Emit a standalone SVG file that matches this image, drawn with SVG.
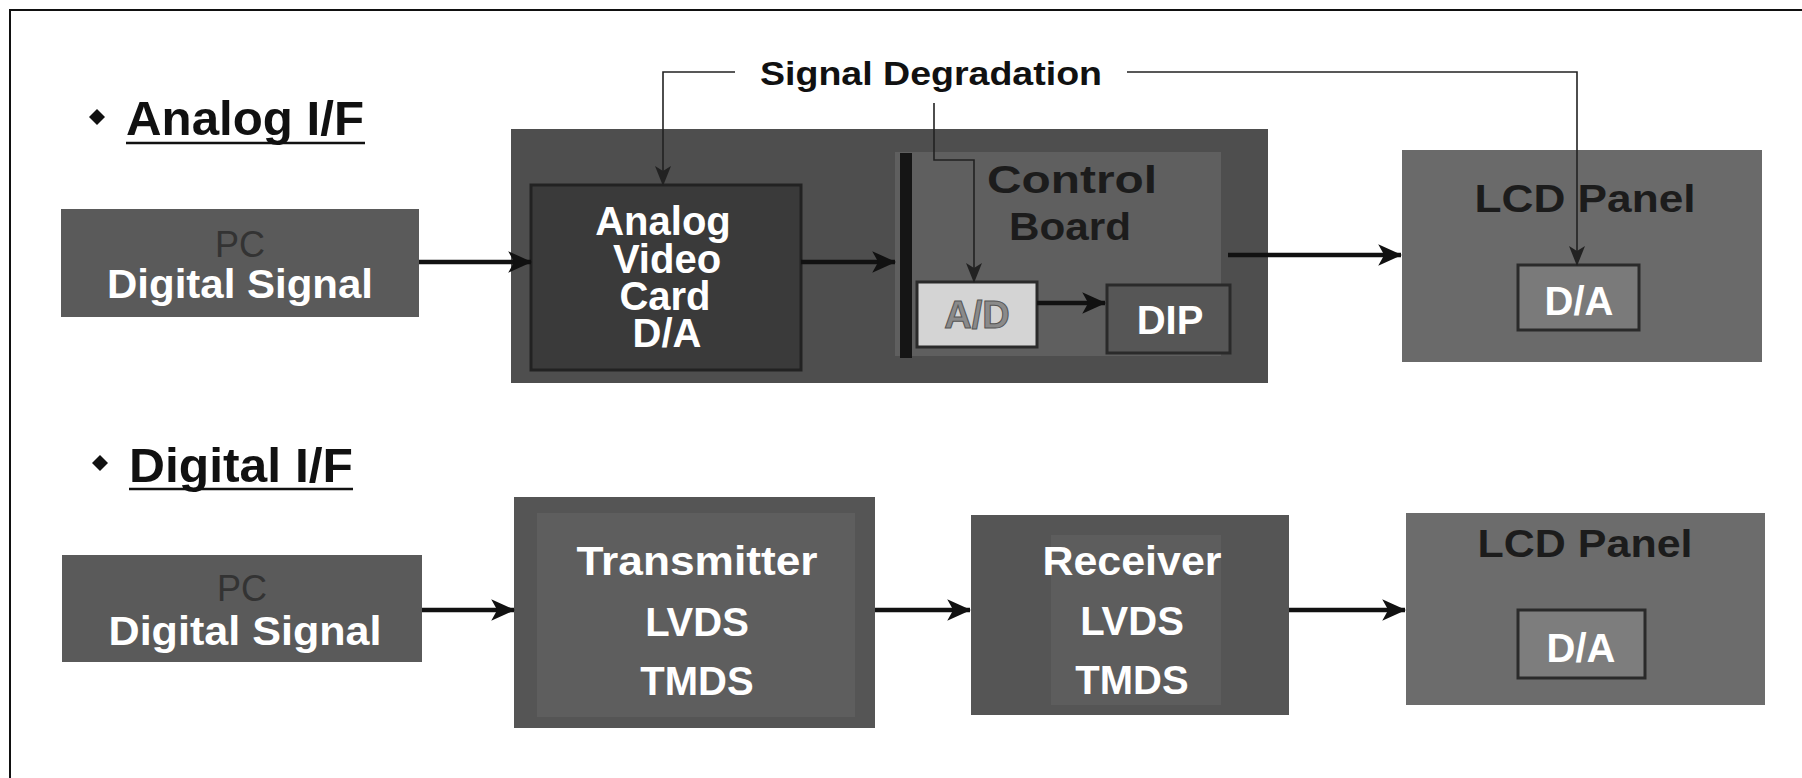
<svg xmlns="http://www.w3.org/2000/svg" width="1802" height="778" viewBox="0 0 1802 778">
<defs>
<style>
text{font-family:"Liberation Sans",Arial,sans-serif;font-weight:bold;}
.w{fill:#ffffff;font-size:40px;text-anchor:middle;}
.d{fill:#1c1c1c;font-size:38px;text-anchor:middle;}
.pc{fill:#333333;font-size:36px;font-weight:normal;text-anchor:middle;}
.hd{fill:#111111;font-size:49px;}
.sd{fill:#111111;font-size:33px;}
.flow{fill:none;stroke:#111111;stroke-width:4.5;}
.thin{fill:none;stroke:#222222;stroke-width:1.6;}
.ul{stroke:#111111;stroke-width:2.5;}
</style>
<marker id="ah" viewBox="0 0 20 20" refX="19" refY="10" markerWidth="24" markerHeight="24" markerUnits="userSpaceOnUse" orient="auto">
<path d="M0,1 L20,10 L0,19 L5,10 z" fill="#111111"/>
</marker>
<marker id="ahs" viewBox="0 0 20 20" refX="19" refY="10" markerWidth="20" markerHeight="20" markerUnits="userSpaceOnUse" orient="auto">
<path d="M0,2 L20,10 L0,18 L5,10 z" fill="#222222"/>
</marker>
</defs>
<rect x="0" y="0" width="1802" height="778" fill="#ffffff"/>
<path d="M10,778 V10 H1802" fill="none" stroke="#111111" stroke-width="2"/>

<g id="heading-analog">
<path d="M97,109 L105,117 L97,125 L89,117 z" fill="#111111"/>
<text class="hd" x="126" y="135" textLength="238" lengthAdjust="spacingAndGlyphs">Analog I/F</text>
<line class="ul" x1="126" y1="143" x2="365" y2="143"/>
</g>

<g id="heading-digital">
<path d="M100,455 L108,463 L100,471 L92,463 z" fill="#111111"/>
<text class="hd" x="129" y="482" textLength="224" lengthAdjust="spacingAndGlyphs">Digital I/F</text>
<line class="ul" x1="129" y1="489" x2="353" y2="489"/>
</g>

<g id="signal-degradation">
<text class="sd" x="760" y="85" textLength="342" lengthAdjust="spacingAndGlyphs">Signal Degradation</text>
</g>

<g id="pc-analog">
<rect x="61" y="209" width="358" height="108" fill="#5a5a5a"/>
<text class="pc" x="240" y="257">PC</text>
<text class="w" x="240" y="298" textLength="266" lengthAdjust="spacingAndGlyphs">Digital Signal</text>
</g>

<g id="analog-module">
<rect x="511" y="129" width="757" height="254" fill="#4e4e4e"/>
</g>

<g id="analog-video-card">
<rect x="531" y="185" width="270" height="185" fill="#3a3a3a" stroke="#222222" stroke-width="3"/>
<text class="w" x="663" y="235" font-size="41">Analog</text>
<text class="w" x="667" y="273" font-size="41">Video</text>
<text class="w" x="665" y="310" font-size="41">Card</text>
<text class="w" x="667" y="347" font-size="41">D/A</text>
</g>

<g id="control-board">
<rect x="895" y="152" width="326" height="204" fill="#5f5f5f"/>
<rect x="900" y="153" width="12" height="205" fill="#151515"/>
<text class="d" x="1072" y="193" textLength="170" lengthAdjust="spacingAndGlyphs">Control</text>
<text class="d" x="1070" y="240" textLength="122" lengthAdjust="spacingAndGlyphs">Board</text>
</g>

<g id="ad-converter">
<rect x="917" y="282" width="120" height="65" fill="#d4d4d4" stroke="#2a2a2a" stroke-width="3"/>
<text x="977" y="328" font-size="38" fill="#8a8a8a" text-anchor="middle" stroke="#555555" stroke-width="1">A/D</text>
</g>

<g id="dip">
<rect x="1107" y="285" width="123" height="68" fill="#565656" stroke="#2a2a2a" stroke-width="3"/>
<text class="w" x="1170" y="334" font-size="42">DIP</text>
</g>

<g id="lcd-analog">
<rect x="1402" y="150" width="360" height="212" fill="#6a6a6a"/>
<text class="d" x="1585" y="212" textLength="221" lengthAdjust="spacingAndGlyphs">LCD Panel</text>
<rect x="1518" y="265" width="121" height="65" fill="#7a7a7a" stroke="#2a2a2a" stroke-width="3"/>
<text class="w" x="1579" y="315">D/A</text>
</g>

<g id="pc-digital">
<rect x="62" y="555" width="360" height="107" fill="#5a5a5a"/>
<text class="pc" x="242" y="601">PC</text>
<text class="w" x="245" y="645" textLength="273" lengthAdjust="spacingAndGlyphs">Digital Signal</text>
</g>

<g id="transmitter">
<rect x="514" y="497" width="361" height="231" fill="#555555"/>
<rect x="537" y="513" width="318" height="204" fill="#5e5e5e"/>
<text class="w" x="697" y="575" textLength="241" lengthAdjust="spacingAndGlyphs">Transmitter</text>
<text class="w" x="697" y="636">LVDS</text>
<text class="w" x="697" y="695">TMDS</text>
</g>

<g id="receiver">
<rect x="971" y="515" width="318" height="200" fill="#555555"/>
<rect x="1051" y="535" width="170" height="170" fill="#5d5d5d"/>
<text class="w" x="1132" y="575" textLength="179" lengthAdjust="spacingAndGlyphs">Receiver</text>
<text class="w" x="1132" y="635">LVDS</text>
<text class="w" x="1132" y="694">TMDS</text>
</g>

<g id="lcd-digital">
<rect x="1406" y="513" width="359" height="192" fill="#6c6c6c"/>
<text class="d" x="1585" y="557" textLength="215" lengthAdjust="spacingAndGlyphs">LCD Panel</text>
<rect x="1518" y="610" width="127" height="68" fill="#7d7d7d" stroke="#2a2a2a" stroke-width="3"/>
<text class="w" x="1581" y="662">D/A</text>
</g>

<g id="connectors">
<line class="flow" x1="419" y1="262" x2="531" y2="262" marker-end="url(#ah)"/>
<line class="flow" x1="801" y1="262" x2="895" y2="262" marker-end="url(#ah)"/>
<line class="flow" x1="1037" y1="303" x2="1105" y2="303" marker-end="url(#ah)"/>
<line class="flow" x1="1228" y1="255" x2="1401" y2="255" marker-end="url(#ah)"/>
<line class="flow" x1="422" y1="610" x2="514" y2="610" marker-end="url(#ah)"/>
<line class="flow" x1="875" y1="610" x2="970" y2="610" marker-end="url(#ah)"/>
<line class="flow" x1="1289" y1="610" x2="1405" y2="610" marker-end="url(#ah)"/>
<path class="thin" d="M735,72 H663 V185" marker-end="url(#ahs)"/>
<path class="thin" d="M934,103 V160 H974 V282" marker-end="url(#ahs)"/>
<path class="thin" d="M1127,72 H1577 V265" marker-end="url(#ahs)"/>
</g>
</svg>
